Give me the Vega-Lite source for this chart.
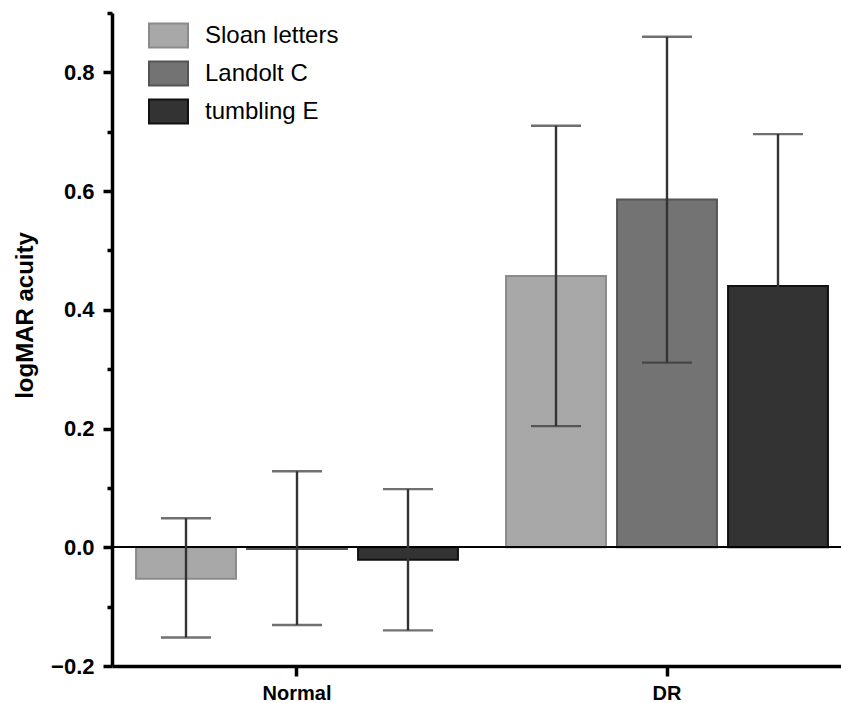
{
  "$schema": "https://vega.github.io/schema/vega-lite/v6.json",
  "autosize": {"type": "none"},
  "padding": {"left": 112, "top": 13, "right": 0, "bottom": 37},
  "width": 729,
  "height": 653,
  "background": "white",
  "config": {
    "view": {"stroke": null},
    "font": "Liberation Sans",
    "axis": {"grid": false, "domainColor": "black", "tickColor": "black", "labelColor": "black", "titleColor": "black", "labelFont": "Liberation Sans", "titleFont": "Liberation Sans"}
  },
  "data": {
    "values": [
      {"group": "Normal", "type": "Sloan letters", "mean": -0.053, "lo": -0.152, "hi": 0.049},
      {"group": "Normal", "type": "Landolt C", "mean": -0.003, "lo": -0.131, "hi": 0.128},
      {"group": "Normal", "type": "tumbling E", "mean": -0.021, "lo": -0.140, "hi": 0.098},
      {"group": "DR", "type": "Sloan letters", "mean": 0.457, "lo": 0.204, "hi": 0.710},
      {"group": "DR", "type": "Landolt C", "mean": 0.586, "lo": 0.311, "hi": 0.860},
      {"group": "DR", "type": "tumbling E", "mean": 0.440, "lo": 0.185, "hi": 0.696}
    ]
  },
  "encoding": {
    "x": {
      "field": "group", "type": "nominal", "sort": ["Normal", "DR"],
      "scale": {"range": [0, 740], "paddingInner": 0.13, "paddingOuter": 0.065},
      "axis": {"title": null, "labelAngle": 0, "labelFontSize": 20, "labelFontWeight": "bold", "labelPadding": 7, "tickSize": 10, "tickWidth": 3.5, "domainWidth": 3.5}
    },
    "xOffset": {
      "field": "type", "type": "nominal", "sort": ["Sloan letters", "Landolt C", "tumbling E"],
      "scale": {"paddingInner": 0.1, "paddingOuter": 0}
    }
  },
  "layer": [
    {
      "mark": {"type": "bar", "strokeWidth": 2},
      "encoding": {
        "y": {
          "field": "mean", "type": "quantitative",
          "scale": {"domain": [-0.2, 0.9], "nice": false, "zero": false},
          "axis": {
            "title": "logMAR acuity", "titleFontSize": 24, "titleFontWeight": "bold",
            "titleAngle": -90, "titleX": -87, "titleY": 302, "titleBaseline": "middle", "titleAlign": "center",
            "values": [-0.2, -0.1, 0, 0.1, 0.2, 0.3, 0.4, 0.5, 0.6, 0.7, 0.8, 0.9],
            "labelExpr": "round(datum.value*10)%2==0 ? format(datum.value, '.1f') : ''",
            "labelFontSize": 22, "labelFontWeight": "bold", "labelPadding": 9,
            "tickSize": {"condition": {"test": "round(datum.value*10)%2==0", "value": 9}, "value": 5},
            "tickWidth": 3.5, "domainWidth": 3.5
          }
        },
        "color": {
          "field": "type", "type": "nominal", "sort": ["Sloan letters", "Landolt C", "tumbling E"],
          "scale": {"domain": ["Sloan letters", "Landolt C", "tumbling E"], "range": ["#a8a8a8", "#737373", "#333333"]},
          "legend": {
            "title": null, "orient": "none", "legendX": 36, "legendY": 2, "padding": 0,
            "symbolType": "M-1,-0.615H1V0.615H-1Z", "symbolSize": 1521, "symbolStrokeWidth": 2,
            "labelFontSize": 24, "labelFont": "Liberation Sans", "labelColor": "black", "labelOffset": 16, "rowPadding": 1
          }
        },
        "stroke": {
          "field": "type", "type": "nominal", "sort": ["Sloan letters", "Landolt C", "tumbling E"],
          "scale": {"domain": ["Sloan letters", "Landolt C", "tumbling E"], "range": ["#8a8a8a", "#555555", "#111111"]},
          "legend": null
        }
      }
    },
    {
      "mark": {"type": "rule", "color": "black", "strokeWidth": 1.5},
      "encoding": {"y": {"datum": 0, "type": "quantitative"}, "x": null, "xOffset": null}
    },
    {
      "mark": {"type": "rule", "color": "#333333", "strokeWidth": 2.4},
      "encoding": {"y": {"field": "lo", "type": "quantitative"}, "y2": {"field": "hi"}}
    },
    {
      "mark": {"type": "tick", "color": "#333333", "thickness": 2.4, "size": 50},
      "encoding": {"y": {"field": "lo", "type": "quantitative"}}
    },
    {
      "mark": {"type": "tick", "color": "#333333", "thickness": 2.4, "size": 50},
      "encoding": {"y": {"field": "hi", "type": "quantitative"}}
    }
  ]
}
